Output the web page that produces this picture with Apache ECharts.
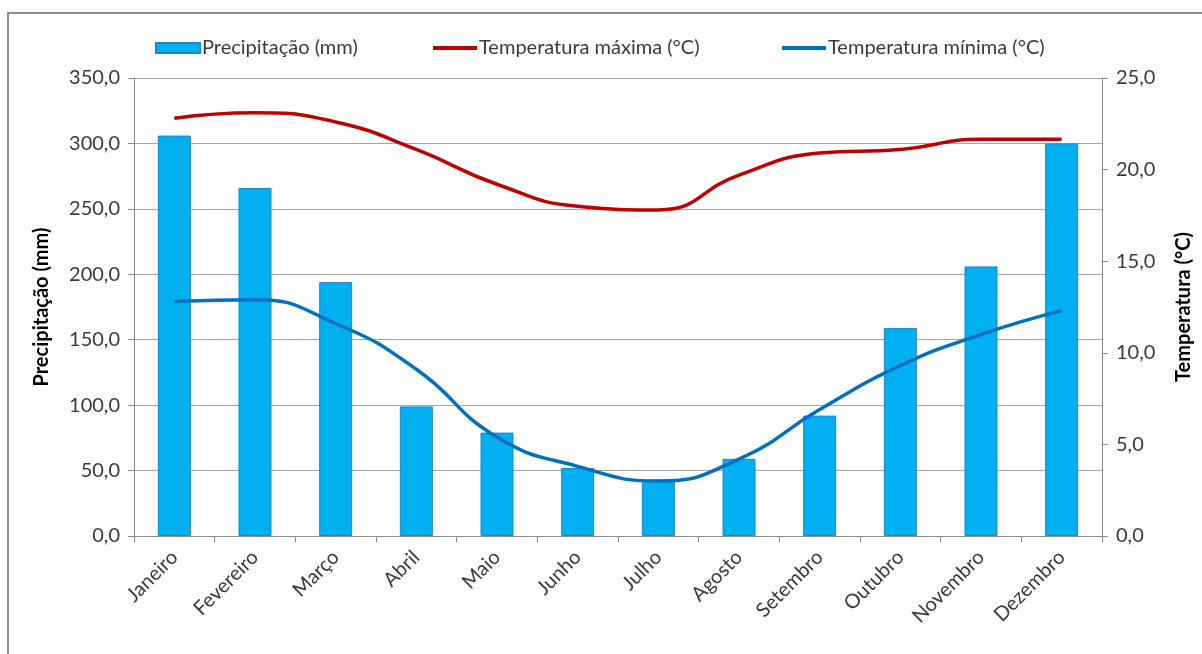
<!DOCTYPE html>
<html>
<head>
<meta charset="utf-8">
<script src="https://cdn.jsdelivr.net/npm/echarts@6/dist/echarts.min.js"></script>
<style>
html,body{margin:0;padding:0;background:#fff;}
#chart{width:1202px;height:654px;}
</style>
</head>
<body>
<div id="chart"></div>
<script>
const months = ['Janeiro','Fevereiro','Março','Abril','Maio','Junho','Julho','Agosto','Setembro','Outubro','Novembro','Dezembro'];
const precipitacao = [306, 266, 194, 99, 79, 52, 43, 59, 92, 159, 206, 300];
const tempMax = [22.8, 23.1, 22.6, 21.1, 19.2, 18.0, 17.8, 19.7, 20.9, 21.1, 21.65, 21.65];
const tempMin = [12.8, 12.9, 11.6, 9.1, 5.4, 3.8, 3.0, 4.2, 6.9, 9.3, 11.0, 12.3];
const seriesNames = ['Precipitação (mm)', 'Temperatura máxima (°C)', 'Temperatura mínima (°C)'];

const FONT = 'Lato';
const FS = 20;
const TXT = '#3a3a3a';
const fmt = v => v.toFixed(1).replace('.', ',');

const chart = echarts.init(document.getElementById('chart'));
function legendAt(left, name, h) {
  return {
    left: left, top: 33, itemWidth: 44, itemHeight: h, itemGap: 4,
    icon: 'rect',
    data: [{ name: name, icon: 'rect' }],
    textStyle: { fontFamily: FONT, fontSize: FS, color: TXT, padding: [0,0,0,-3] }
  };
}
chart.setOption({
  backgroundColor: '#fff',
  animation: false,
  graphic: [{
    type: 'rect', shape: { x: 8, y: 13, width: 1300, height: 700 },
    style: { fill: 'none', stroke: '#8c8c8c', lineWidth: 2 }, silent: true
  }],
  legend: [
    legendAt(150, seriesNames[0], 10),
    legendAt(428, seriesNames[1], 4),
    legendAt(777, seriesNames[2], 4)
  ],
  grid: { left: 134, right: 97, top: 78, bottom: 118, containLabel: false },
  xAxis: {
    type: 'category', data: months, boundaryGap: true,
    axisLine: { lineStyle: { color: '#8c8c8c', width: 1 } },
    axisTick: { show: true, alignWithLabel: false, length: 6, lineStyle: { color: '#8c8c8c' } },
    axisLabel: { rotate: 45, interval: 0, fontFamily: FONT, fontSize: FS, color: TXT, margin: 18 }
  },
  yAxis: [{
    type: 'value', min: 0, max: 350, interval: 50, position: 'left',
    name: 'Precipitação (mm)', nameLocation: 'middle', nameGap: 82, nameRotate: 90,
    nameTextStyle: { fontFamily: FONT, fontSize: FS, fontWeight: 'bold', color: '#000' },
    axisLine: { show: true, lineStyle: { color: '#8c8c8c' } },
    axisTick: { show: true, length: 6, lineStyle: { color: '#8c8c8c' } },
    axisLabel: { formatter: fmt, fontFamily: FONT, fontSize: FS, color: TXT, margin: 14 },
    splitLine: { show: true, lineStyle: { color: '#a6a6a6', width: 1 } }
  }, {
    type: 'value', min: 0, max: 25, interval: 5, position: 'right',
    name: 'Temperatura (°C)', nameLocation: 'middle', nameGap: 72, nameRotate: 90,
    nameTextStyle: { fontFamily: FONT, fontSize: FS, fontWeight: 'bold', color: '#000' },
    axisLine: { show: true, lineStyle: { color: '#8c8c8c' } },
    axisTick: { show: true, length: 6, lineStyle: { color: '#8c8c8c' } },
    axisLabel: { formatter: fmt, fontFamily: FONT, fontSize: FS, color: TXT, margin: 14 },
    splitLine: { show: false }
  }],
  series: [{
    name: seriesNames[0], type: 'bar', data: precipitacao, yAxisIndex: 0,
    barWidth: 33,
    itemStyle: { color: '#00B0F0', borderColor: '#1b86c8', borderWidth: 1 }
  }, {
    name: seriesNames[1], type: 'line', data: tempMax, yAxisIndex: 1,
    smooth: 0.5, symbol: 'none',
    lineStyle: { color: '#C00000', width: 3.5 }, itemStyle: { color: '#C00000' }
  }, {
    name: seriesNames[2], type: 'line', data: tempMin, yAxisIndex: 1,
    smooth: 0.5, symbol: 'none',
    lineStyle: { color: '#0070C0', width: 3.5 }, itemStyle: { color: '#0070C0' }
  }]
});
</script>
</body>
</html>
